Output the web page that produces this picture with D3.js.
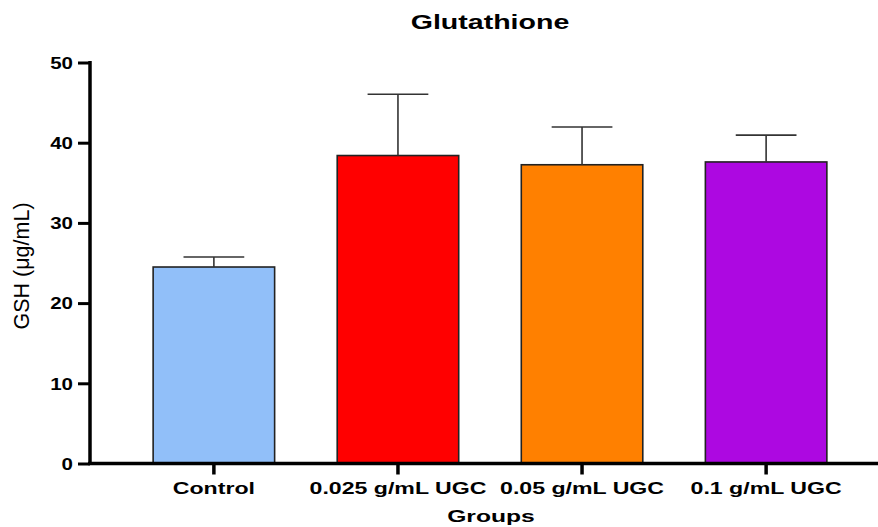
<!DOCTYPE html>
<html>
<head>
<meta charset="utf-8">
<script src="https://cdn.jsdelivr.net/npm/d3@7"></script>
<style>
  body { margin: 0; background: #fff; }
  text { font-family: "Liberation Sans", Arial, sans-serif; fill: #000; }
</style>
</head>
<body>
<div class="chart"></div>
<script>
//size of the svg
var widthSVG = 878;
var heightSVG = 527;

//data
var groups = ["Control", "0.025 g/mL UGC", "0.05 g/mL UGC", "0.1 g/mL UGC"];
var means = [24.5, 38.4, 37.25, 37.6];
var errors = [1.25, 7.65, 4.7, 3.35];
var yTicks = [0, 10, 20, 30, 40, 50];
var cor = ["#91bff9", "#ff0000", "#ff8000", "#ad08e1"];

//horizontal stretch of the bold labels (the original font is wider than Arial)
var stretch = 1.36;
var tickStretch = 1.28;

var svg = d3.select(".chart")
    .append("svg")
    .attr("width", widthSVG)
    .attr("height", heightSVG);

//scales
var xScale = d3.scaleBand()
    .domain(groups)
    .range([120, 860])
    .paddingInner(0.34)
    .paddingOuter(0.18);

var yScale = d3.scaleLinear()
    .domain([0, 50])
    .range([463.5, 62.5]);

//bars
svg.selectAll(".bar")
    .data(groups)
    .enter()
    .append("rect")
    .attr("class", "bar")
    .attr("x", function(d) { return xScale(d); })
    .attr("width", xScale.bandwidth())
    .attr("y", function(d, i) { return yScale(means[i]); })
    .attr("height", function(d, i) { return yScale(0) - yScale(means[i]); })
    .attr("fill", function(d, i) { return cor[i]; })
    .attr("stroke", "#222")
    .attr("stroke-width", 1.6);

//error bars (only the upper half, like the original)
var erro = svg.selectAll(".erro")
    .data(groups)
    .enter()
    .append("g")
    .attr("class", "erro")
    .attr("stroke", "#333")
    .attr("stroke-width", 1.6);

erro.append("line")
    .attr("x1", function(d) { return xScale(d) + xScale.bandwidth() / 2; })
    .attr("x2", function(d) { return xScale(d) + xScale.bandwidth() / 2; })
    .attr("y1", function(d, i) { return yScale(means[i]); })
    .attr("y2", function(d, i) { return yScale(means[i] + errors[i]); });

erro.append("line")
    .attr("x1", function(d) { return xScale(d) + xScale.bandwidth() / 4; })
    .attr("x2", function(d) { return xScale(d) + xScale.bandwidth() * 3 / 4; })
    .attr("y1", function(d, i) { return yScale(means[i] + errors[i]); })
    .attr("y2", function(d, i) { return yScale(means[i] + errors[i]); });

//y axis
var y_axis = d3.axisLeft(yScale)
    .tickValues(yTicks)
    .tickSize(12)
    .tickSizeOuter(0)
    .tickPadding(5);

var gy = svg.append("g")
    .attr("class", "coord y")
    .attr("transform", "translate(90,0)")
    .call(y_axis);

gy.select(".domain").remove();
gy.selectAll(".tick line")
    .attr("stroke", "#000")
    .attr("stroke-width", 3);
gy.selectAll(".tick text")
    .attr("x", 0)
    .attr("dy", "0.36em")
    .attr("transform", "translate(-17,0) scale(" + tickStretch + ",1)")
    .style("font-size", "16px")
    .style("font-weight", "bold")
    .attr("fill", "#000");

svg.append("line")
    .attr("x1", 90).attr("x2", 90)
    .attr("y1", yScale(50) - 1.5).attr("y2", yScale(0) + 1.5)
    .attr("stroke", "#000")
    .attr("stroke-width", 3.5);

//x axis
var x_axis = d3.axisBottom(xScale)
    .tickSize(11)
    .tickSizeOuter(0)
    .tickPadding(8);

var gx = svg.append("g")
    .attr("class", "coord x")
    .attr("transform", "translate(0," + yScale(0) + ")")
    .call(x_axis);

gx.select(".domain").remove();
gx.selectAll(".tick line")
    .attr("stroke", "#000")
    .attr("stroke-width", 3.5);
gx.selectAll(".tick text")
    .attr("y", 0)
    .attr("dy", 0)
    .attr("transform", "translate(0,30.5) scale(" + stretch + ",1)")
    .style("font-size", "17px")
    .style("font-weight", "bold")
    .attr("fill", "#000");

svg.append("line")
    .attr("x1", 88).attr("x2", widthSVG)
    .attr("y1", yScale(0)).attr("y2", yScale(0))
    .attr("stroke", "#000")
    .attr("stroke-width", 3.5);

//title
svg.append("text")
    .attr("text-anchor", "middle")
    .attr("transform", "translate(490,29) scale(" + stretch + ",1)")
    .style("font-size", "21px")
    .style("font-weight", "bold")
    .text("Glutathione");

//x label
svg.append("text")
    .attr("text-anchor", "middle")
    .attr("transform", "translate(491,522) scale(1.45,1)")
    .style("font-size", "17px")
    .style("font-weight", "bold")
    .text("Groups");

//y label
svg.append("text")
    .attr("text-anchor", "middle")
    .attr("transform", "translate(29,266) rotate(-90)")
    .style("font-size", "21.5px")
    .text("GSH (μg/mL)");
</script>
</body>
</html>
